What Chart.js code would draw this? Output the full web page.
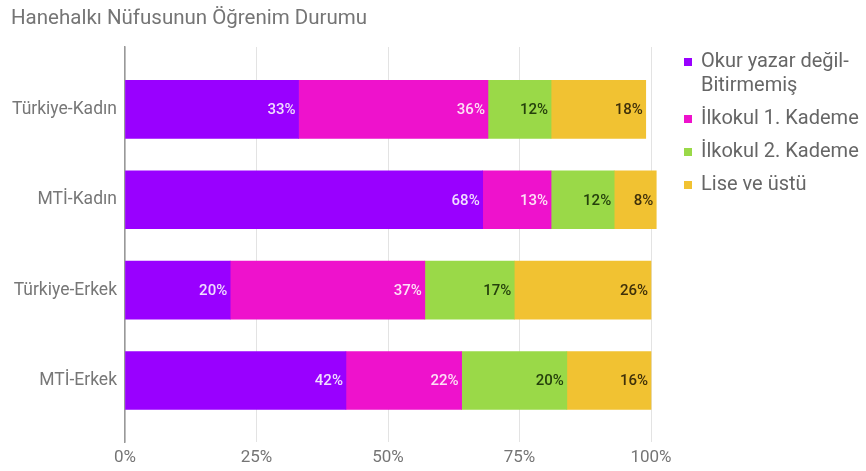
<!DOCTYPE html>
<html>
<head>
<meta charset="utf-8">
<script src="https://cdn.jsdelivr.net/npm/chart.js@4.4.0/dist/chart.umd.min.js"></script>
<style>
  html, body { margin: 0; padding: 0; background: #fff; }
  #wrap { width: 866px; height: 471px; position: relative; }
</style>
</head>
<body>
<div id="wrap"><canvas id="myChart"></canvas></div>
<script>
const chartTitle = 'Hanehalkı Nüfusunun Öğrenim Durumu';
const categories = ['Türkiye-Kadın', 'MTİ-Kadın', 'Türkiye-Erkek', 'MTİ-Erkek'];
const seriesNames = ['Okur yazar değil-Bitirmemiş', 'İlkokul 1. Kademe', 'İlkokul 2. Kademe', 'Lise ve üstü'];
const okurYazarDegil = [33, 68, 20, 42];
const ilkokul1 = [36, 13, 37, 22];
const ilkokul2 = [12, 12, 17, 20];
const liseVeUstu = [18, 8, 26, 16];
const xTicks = [0, 25, 50, 75, 100];

const colors = ['#9900ff', '#ee12cc', '#9ad948', '#f1c232'];
const labelColors = ['#f0ddff', '#fde0f6', '#25400c', '#3f300a'];
const font = 'Roboto, "Noto Sans", sans-serif';
const seriesData = [okurYazarDegil, ilkokul1, ilkokul2, liseVeUstu];

// etiketler: bölümün sağ ucuna yakın
const valueLabels = {
    id: 'valueLabels',
    afterDatasetsDraw(chart) {
        const ctx = chart.ctx;
        ctx.save();
        ctx.font = '500 15px ' + font;
        ctx.textAlign = 'right';
        ctx.textBaseline = 'middle';
        chart.data.datasets.forEach((ds, i) => {
            chart.getDatasetMeta(i).data.forEach((bar, j) => {
                ctx.fillStyle = labelColors[i];
                ctx.fillText(seriesData[i][j] + '%', bar.x - 3, bar.y + 1);
            });
        });
        ctx.restore();
    }
};

// başlık ve sağdaki açıklama
const titleAndLegend = {
    id: 'titleAndLegend',
    afterDraw(chart) {
        const ctx = chart.ctx;
        ctx.save();
        ctx.fillStyle = '#757575';
        ctx.font = '20.5px ' + font;
        ctx.textBaseline = 'middle';
        ctx.textAlign = 'left';
        ctx.fillText(chartTitle, 11, 19);

        ctx.font = '20px ' + font;
        let y = 62;
        chart.data.datasets.forEach((ds, i) => {
            ctx.fillStyle = ds.backgroundColor;
            ctx.fillRect(684, y - 4, 8, 8);
            ctx.fillStyle = '#666666';
            const lines = ds.label.split(/(?<=-)/);
            lines.forEach((ln, k) => {
                ctx.fillText(ln, 701, y + k * 24);
            });
            y += (lines.length - 1) * 24 + 33;
        });
        ctx.restore();
    }
};

new Chart(document.getElementById('myChart'), {
    type: 'bar',
    data: {
        labels: categories,
        datasets: seriesNames.map((name, i) => ({
            label: name,
            data: seriesData[i].map((v, j) => ({ x: v, y: j })),
            backgroundColor: colors[i],
            borderWidth: 0,
            barThickness: 58,
            clip: false
        }))
    },
    options: {
        indexAxis: 'y',
        responsive: true,
        maintainAspectRatio: false,
        animation: false,
        layout: { padding: { top: 47, right: 215, left: 0, bottom: 0 } },
        plugins: {
            legend: { display: false },
            tooltip: { enabled: false }
        },
        scales: {
            x: {
                stacked: true,
                min: 0,
                max: 100,
                afterBuildTicks: (s) => { s.ticks = xTicks.map(v => ({ value: v })); },
                ticks: {
                    callback: (v) => v + '%',
                    color: '#757575',
                    font: { family: font, size: 17 },
                    padding: 6
                },
                grid: { color: '#e3e3e3', drawTicks: false },
                border: { display: false },
                afterFit: (s) => { s.height = 29; }
            },
            y: {
                type: 'linear',
                stacked: true,
                reverse: true,
                offset: false,
                min: -0.69,
                max: 3.68,
                afterBuildTicks: (s) => { s.ticks = categories.map((c, i) => ({ value: i })); },
                ticks: {
                    callback: (v) => categories[v],
                    color: '#777777',
                    font: { family: font, size: 17.5 },
                    padding: 0
                },
                grid: { display: false },
                border: { display: true, color: '#999999', width: 1.5 },
                afterFit: (s) => { s.width = 125; }
            }
        }
    },
    plugins: [valueLabels, titleAndLegend]
});
</script>
</body>
</html>
